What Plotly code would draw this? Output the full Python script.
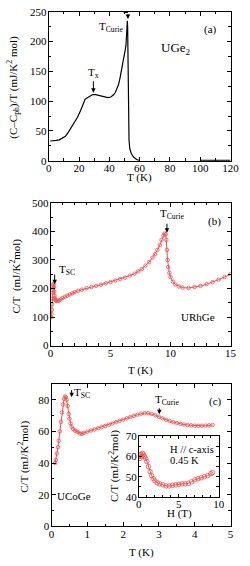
import plotly.graph_objects as go

# ---------------- data ----------------
# (a) UGe2
T_a = [1, 3, 5, 7, 9, 11, 13, 15, 17, 19, 21, 23, 24, 25, 27, 29, 31, 33, 35, 37,
       39, 41, 43, 44, 44.5, 45, 46, 47, 48, 49, 50, 50.5, 51, 51.5, 51.9, 52.1, 52.3, 52.5, 52.7, 53,
       53.5, 54.5, 56, 58, 60]
C_a = [33, 33, 34, 35, 38, 41, 48, 56, 65, 73, 84, 96, 103, 105, 108, 111, 111, 110, 109, 107,
       106, 107, 111, 115, 118, 120, 127, 138, 150, 163, 178, 186, 194, 210, 235, 225, 180, 110, 60, 35,
       20, 12, 6, 2, 0]
T_a_tail = [100, 105, 110, 115, 120]
C_a_tail = [0.6, 0.6, 0.6, 0.6, 0.6]

# (b) URhGe
T_b = [0.05, 0.08, 0.1, 0.12, 0.15, 0.18, 0.2, 0.22, 0.25, 0.28,
       0.3, 0.33, 0.36, 0.4, 0.45, 0.5, 0.6, 0.7, 0.85, 1.0,
       1.2, 1.4, 1.6, 1.8, 2.0, 2.3, 2.6, 3.0, 3.4, 3.8,
       4.2, 4.6, 5.0, 5.4, 5.8, 6.2, 6.6, 7.0, 7.3, 7.6,
       7.9, 8.2, 8.5, 8.7, 8.9, 9.1, 9.25, 9.4, 9.5, 9.6,
       9.65, 9.7, 9.75, 9.8, 9.9, 10.0, 10.2, 10.4, 10.7, 11.0,
       11.5, 12.0, 12.5, 13.0, 13.5, 14.0, 14.5, 15.0]
C_b = [100, 110, 125, 145, 165, 185, 200, 212, 216, 205,
       190, 175, 165, 160, 158, 157, 156, 158, 162, 167,
       171, 175, 179, 183, 187, 192, 196, 201, 205, 209,
       213, 218, 223, 228, 233, 238, 245, 252, 260, 268,
       280, 292, 308, 320, 335, 352, 370, 385, 392, 390,
       370, 335, 300, 275, 255, 240, 224, 214, 207, 203,
       202, 205, 209, 215, 222, 231, 240, 250]

# (c) UCoGe
T_c = [0.1, 0.12, 0.15, 0.18, 0.2, 0.23, 0.26, 0.29, 0.32, 0.35, 0.38, 0.4, 0.42, 0.45, 0.48,
       0.5, 0.53, 0.56, 0.6, 0.65, 0.7, 0.75, 0.8, 0.85, 0.9,
       1.0, 1.1, 1.2, 1.3, 1.4, 1.5, 1.6, 1.7, 1.8, 1.9, 2.0, 2.1, 2.2, 2.3, 2.4, 2.5,
       2.6, 2.7, 2.8, 2.9, 3.0, 3.1, 3.2, 3.3, 3.4, 3.5, 3.6, 3.7, 3.8, 3.9, 4.0,
       4.1, 4.2, 4.3, 4.4, 4.5]
C_c = [40, 42, 46, 50, 54, 60, 66, 72, 77, 80.5, 82, 81.5, 80, 76, 71,
       68, 65, 63, 61.5, 60.5, 60, 59.5, 58.5, 58.5, 59,
       59.8, 60.5, 61.2, 62, 62.7, 63.4, 64.2, 65, 65.8, 66.6, 67.4, 68.2, 69, 69.8, 70.5, 71.2,
       71.5, 71.5, 71, 70.2, 69.2, 68.2, 67.3, 66.5, 65.8, 65.2, 64.7, 64.3, 64, 63.8, 63.6,
       63.5, 63.5, 63.6, 63.8, 64]

# (c) inset: field dependence at 0.45 K
H_i = [0.05, 0.15, 0.25, 0.35, 0.45, 0.55, 0.7, 0.85, 1.0, 1.2, 1.4, 1.6, 1.8, 2.0, 2.3, 2.6,
       3.0, 3.4, 3.8, 4.2, 4.6, 5.0, 5.4, 5.8, 6.2, 6.6, 7.0, 7.4, 7.8, 8.2, 8.6, 9.0, 9.2]
C_i = [60, 59, 61, 60, 61.5, 61, 60, 59, 57.5, 55, 52.5, 50.5, 49, 48, 47, 46.5,
       46, 45.5, 45.5, 45.8, 46, 46.3, 46.5, 46.5, 46.8, 47.5, 48.5, 49, 49.5, 50, 50.5, 51.5, 52]

# ---------------- figure ----------------
W, H = 250, 566
FONT = "Liberation Serif, Times New Roman, serif"
RED = "#ef4f4f"

def px(x):
    return x / W

def py(y):
    return 1 - y / H

fig = go.Figure()

fig.add_trace(go.Scatter(x=T_a, y=C_a, mode="lines", line=dict(color="black", width=1.2),
                         xaxis="x", yaxis="y", showlegend=False))
fig.add_trace(go.Scatter(x=T_a_tail, y=C_a_tail, mode="lines", line=dict(color="black", width=1.2),
                         xaxis="x", yaxis="y", showlegend=False))

marker = dict(symbol="circle-open", size=3.5, color=RED, line=dict(width=0.8, color=RED))
fig.add_trace(go.Scatter(x=T_b, y=C_b, mode="lines+markers", line=dict(color=RED, width=1),
                         marker=marker, xaxis="x2", yaxis="y2", showlegend=False))
fig.add_trace(go.Scatter(x=T_c, y=C_c, mode="lines+markers", line=dict(color=RED, width=1),
                         marker=marker, xaxis="x3", yaxis="y3", showlegend=False))
fig.add_trace(go.Scatter(x=H_i, y=C_i, mode="lines+markers", line=dict(color=RED, width=1),
                         marker=dict(symbol="circle-open", size=4.5, color=RED, line=dict(width=0.8, color=RED)),
                         xaxis="x4", yaxis="y4", showlegend=False))

tickfont = dict(family=FONT, size=11, color="black")

def ax(domain, rng, dtick, minor, anchor, ticklen=4, standoff=0):
    return dict(domain=domain, range=rng, dtick=dtick, tick0=0, anchor=anchor,
                showline=True, linecolor="black", linewidth=1, mirror="allticks",
                ticks="inside", ticklen=ticklen, tickwidth=1, tickcolor="black",
                minor=dict(dtick=minor, ticks="inside", ticklen=2.5, tickcolor="black", tickwidth=1),
                showgrid=False, zeroline=False, tickfont=tickfont,
                ticklabelstandoff=standoff)

fig.update_layout(
    width=W, height=H, margin=dict(l=0, r=0, t=0, b=0),
    paper_bgcolor="white", plot_bgcolor="white",
    xaxis=ax([px(48), px(239)], [0, 120], 20, 10, "y", standoff=-3),
    yaxis=ax([py(158), py(6)], [0, 250], 50, 25, "x", standoff=-1),
    xaxis2=ax([px(50), px(239)], [0, 15], 5, 1, "y2", standoff=-3),
    yaxis2=ax([py(347), py(201)], [0, 500], 100, 50, "x2", standoff=-1),
    xaxis3=ax([px(51), px(239)], [0, 5], 1, 0.5, "y3", standoff=-3),
    yaxis3=ax([py(531.7), py(386)], [0, 90], 20, 10, "x3", standoff=-1),
    xaxis4=ax([px(142.7), px(226.7)], [0, 10], 5, 1, "y4", ticklen=3, standoff=-3),
    yaxis4=ax([py(501.7), py(439.3)], [40, 70], 10, 5, "x4", ticklen=3, standoff=-1),
)

ann = []

def label(text, x, y, xref, yref, size=11, angle=0, xanchor="center"):
    ann.append(dict(text=text, x=x, y=y, xref=xref, yref=yref, showarrow=False,
                    font=dict(family=FONT, size=size, color="black"), textangle=angle,
                    xanchor=xanchor, yanchor="middle"))

def arrow(x, y0, y1, xr, yr):
    ann.append(dict(text="", x=x, y=y1, ax=x, ay=y0, xref=xr, yref=yr, axref=xr, ayref=yr,
                    showarrow=True, arrowhead=2, arrowsize=0.9, arrowwidth=1, arrowcolor="black"))

# axis titles
label("(C\u2013C<sub>ph</sub>)/T (mJ/K<sup>2</sup> mol)", px(11), py(83), "paper", "paper", 11, -90)
label("T (K)", px(143.5), py(175.5), "paper", "paper", 11)
label("C/T  (mJ/K<sup>2</sup>mol)", px(13), py(276), "paper", "paper", 11, -90)
label("T (K)", px(144.5), py(372), "paper", "paper", 11)
label("C/T (mJ/K<sup>2</sup>mol)", px(21.5), py(460), "paper", "paper", 11, -90)
label("T (K)", px(145), py(558), "paper", "paper", 11)
label("C/T (mJ/K<sup>2</sup>mol)", px(116.5), py(470), "paper", "paper", 11, -90)
label("H (T)", px(185), py(518), "paper", "paper", 11)

# panel (a)
label("(a)", 106.8, 220, "x", "y")
label("UGe<sub>2</sub>", 84, 189, "x", "y", 13)
label("T<sub>x</sub>", 29.5, 148, "x", "y")
arrow(29.5, 136, 114, "x", "y")
label("T<sub>Curie</sub>", 41, 225, "x", "y")
arrow(52.3, 249, 238, "x", "y")
fig.add_shape(type="line", x0=49.5, x1=52.3, y0=249, y1=249, xref="x", yref="y",
              line=dict(color="black", width=1))

# panel (b)
label("(b)", 13.7, 435, "x2", "y2")
label("URhGe", 12.3, 100, "x2", "y2")
label("T<sub>Curie</sub>", 10.1, 459, "x2", "y2")
arrow(9.7, 432, 395, "x2", "y2")
label("T<sub>SC</sub>", 1.35, 264, "x2", "y2")
arrow(0.34, 254, 215, "x2", "y2")

# panel (c)
label("(c)", 4.57, 79, "x3", "y3")
label("UCoGe", 0.64, 19, "x3", "y3")
label("T<sub>SC</sub>", 0.86, 84, "x3", "y3")
arrow(0.56, 87, 81.5, "x3", "y3")
label("T<sub>Curie</sub>", 3.22, 79.5, "x3", "y3")
arrow(3.01, 75.5, 70.8, "x3", "y3")

# inset
label("H // c-axis", 3.64, 63.4, "x4", "y4", 10.5, 0, "left")
label("0.45 K", 3.64, 58.0, "x4", "y4", 10.5, 0, "left")

fig.update_layout(annotations=ann)
fig.write_html("out.html", config={"displayModeBar": False},
               post_script="document.body.style.margin='0';")
